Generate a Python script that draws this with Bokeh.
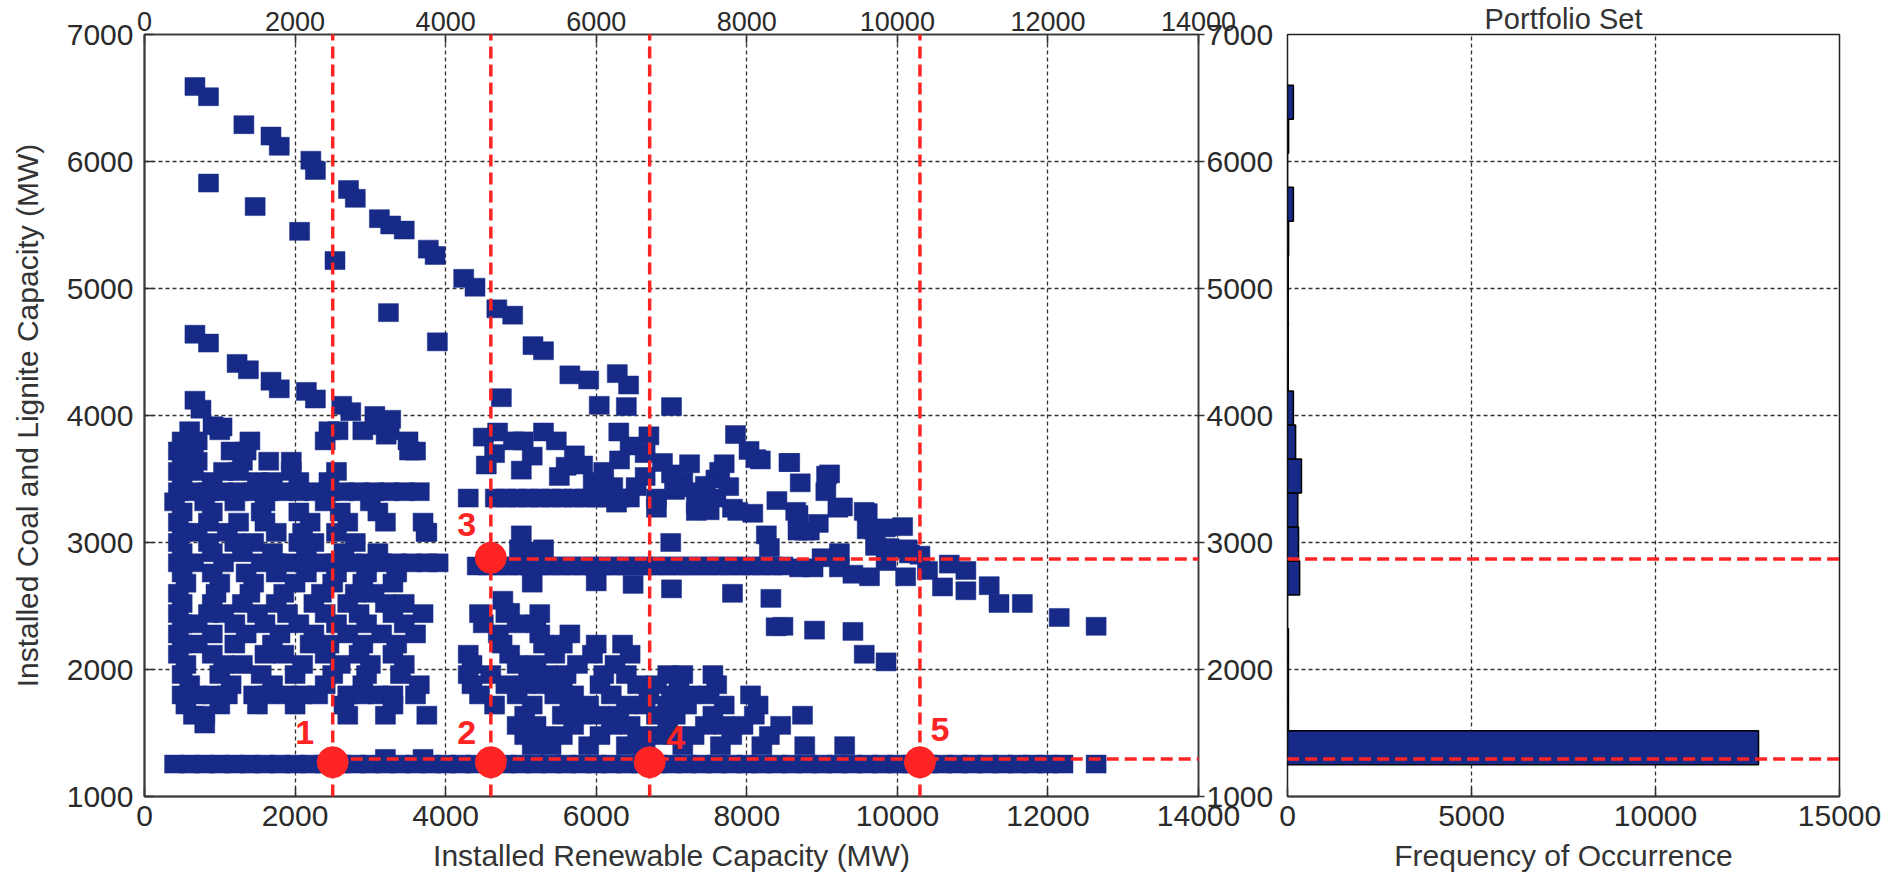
from bokeh.plotting import figure
from bokeh.models import Range1d, LinearAxis, FixedTicker, Arrow, ColumnDataSource
from bokeh.layouts import row
from bokeh.embed import file_html
from bokeh.resources import INLINE
from bokeh.core.properties import value

# ---------------- data ----------------
x_ticks = [0, 2000, 4000, 6000, 8000, 10000, 12000, 14000]
y_ticks = [1000, 2000, 3000, 4000, 5000, 6000, 7000]
freq_ticks = [0, 5000, 10000, 15000]

# upper diagonal band of portfolios (renewable MW, coal+lignite MW)
upper_band_x = [670, 850, 1320, 1680, 1790, 2210, 2270, 2710, 2800, 3120, 3270, 3450, 3770, 3860, 4240,
                4390, 4680, 4890, 5160, 5300, 5650, 5900, 6280, 6430, 6040, 6400, 7000, 6300, 6700, 7850,
                8030, 8180, 8560, 8710, 9100, 9270, 9600, 9840, 10070, 10130]
upper_band_y = [6590, 6510, 6290, 6200, 6120, 6010, 5930, 5780, 5710, 5550, 5500, 5460, 5310, 5260, 5080,
                5010, 4840, 4790, 4550, 4510, 4320, 4280, 4330, 4240, 4080, 4070, 4070, 3870, 3840, 3850,
                3725, 3650, 3630, 3470, 3540, 3280, 3235, 3115, 3125, 2950]

isolated_x = [850, 1470, 2060, 2530, 3240, 3890, 4740]
isolated_y = [5830, 5645, 5450, 5220, 4810, 4580, 4140]

second_band_x = [670, 850, 1230, 1380, 1680, 1790, 2150, 2270, 2620, 2740, 3060, 3270, 3210, 2570, 3075,
                 670, 750, 910, 1030]
second_band_y = [4640, 4570, 4410, 4360, 4270, 4210, 4190, 4130, 4080, 4030, 4000, 3970, 3845, 3880, 3920,
                 4120, 4050, 3920, 3910]

mid_right_x = [4500, 4690, 4900, 5030, 5300, 5470, 4540, 5005, 5510, 5710, 5820, 6310, 6880, 7240, 7590,
               8120, 8570, 5960, 6220, 6530, 6800, 7040, 7330, 7590, 7810, 8080, 8260, 8300, 6270, 6800,
               7330, 7110, 7350, 7640, 7760, 7880, 8650, 8770, 9050, 9060, 9210, 9560, 9690, 8680, 8680,
               8830, 9230, 9710, 9890, 10160, 9600, 5005, 4980, 5230, 6990, 4300, 3520, 3740,
               4650, 5150, 5600, 6100, 6650, 7000, 7450, 7700, 8400, 8950, 6450, 6650, 7150, 7500]
mid_right_y = [3830, 3870, 3800, 3800, 3870, 3800, 3610, 3570, 3520, 3690, 3610, 3650, 3630, 3620, 3500,
               3660, 3630, 3480, 3440, 3440, 3350, 3410, 3300, 3350, 3270, 3230, 3060, 2960, 3310, 3270,
               3245, 3430, 3400, 3560, 3440, 3245, 3245, 3090, 3400, 3530, 3270, 3245, 3100, 3220, 3090,
               3090, 2920, 2970, 2960, 2910, 3100, 3060, 2950, 2930, 3000, 3350, 3720, 3080,
               3700, 3680, 3600, 3560, 3520, 3540, 3450, 3620, 3330, 3150, 3760, 3700, 3480, 3250]

tail_x = [8700, 8880, 9230, 9410, 9630, 10110, 10690, 10910, 10600, 10910, 11220, 11350, 11660, 12150,
          12640, 10400, 10300, 9000, 9850]
tail_y = [2800, 2800, 2800, 2750, 2730, 2730, 2830, 2780, 2650, 2620, 2660, 2520, 2520, 2410,
          2340, 2780, 2900, 2880, 2850]

below_band_x = [4760, 4850, 6000, 6490, 7000, 7810, 8320, 8480, 8900, 9410, 9560, 9850, 8390, 5150, 5300]
below_band_y = [2545, 2450, 2690, 2670, 2635, 2600, 2560, 2340, 2310, 2300, 2120, 2060, 2336, 2680, 2950]

# horizontal bands: (coal MW, renewable MW positions)
band_rows = [
    (3350, [4660, 4800, 4950, 5100, 5250, 5400, 5550, 5700, 5850, 6000, 6150, 6300, 6440]),
    (2815, [4420, 4560, 4700, 4840, 4980, 5120, 5260, 5400, 5540, 5680, 5820, 5960, 6100, 6240, 6380,
            6520, 6660, 6800, 6940, 7080, 7220, 7360, 7500, 7640, 7780, 7920, 8060, 8200, 8340, 8480]),
    (1255, [400, 600, 800, 1000, 1200, 1400, 1600, 1800, 2000, 2200, 2400, 2600, 2800, 3000, 3200,
            3400, 3600, 3800, 4000, 4200, 4400, 4600, 4800, 5000, 5200, 5400, 5600, 5800, 6000, 6200,
            6400, 6600, 6800, 7000, 7200, 7400, 7600, 7800, 8000, 8200, 8400, 8600, 8800, 9000, 9200,
            9400, 9600, 9800, 10000, 10200, 10400, 10600, 10800, 11000, 11200, 11400, 11600, 11800,
            12000, 12200, 12640]),
    (1300, [3200, 3700]),
]

left_cluster_rows = [
    (3880, [600, 1000, 2450, 2900, 3250]),
    (3800, [500, 700, 1400, 2400, 3500]),
    (3720, [450, 650, 1150, 1350, 3600]),
    (3640, [500, 700, 1300, 1650, 1950]),
    (3560, [450, 650, 1050, 1250, 1950, 2550]),
    (3480, [500, 900, 1500, 1700, 2050, 2450]),
    (3400, [450, 650, 850, 1050, 1250, 1450, 1650, 1850, 2050, 2250, 2450, 2650, 2850, 3050, 3250, 3450,
            3650]),
    (3320, [400, 800, 1200, 1600, 2400, 3000]),
    (3240, [500, 900, 1550, 2050, 2600, 3100]),
    (3160, [450, 850, 1250, 1600, 2200, 2700, 3200, 3700]),
    (3080, [500, 700, 1100, 1750, 2100, 2550, 3750]),
    (3000, [450, 850, 1200, 1450, 2050, 2250, 2800]),
    (2920, [500, 900, 1300, 1700, 2150, 2650, 3100]),
    (2840, [450, 650, 1050, 1550, 1750, 1950, 2150, 2350, 2550, 2750, 2950, 3150, 3350, 3550, 3750,
            3900]),
    (2760, [500, 900, 1350, 1750, 2150, 2550, 2950, 3350]),
    (2680, [550, 1000, 1450, 2000, 2500, 2900, 3300]),
    (2600, [450, 950, 1400, 1850, 2350, 2800, 3050]),
    (2520, [500, 900, 1300, 1750, 2250, 2700, 3200, 3450]),
    (2440, [450, 850, 1050, 1500, 1900, 2400, 2850, 3300, 3700]),
    (2360, [500, 700, 1200, 1600, 2050, 2550, 2950, 3450]),
    (2280, [450, 900, 1350, 1800, 2250, 2700, 3150, 3600]),
    (2200, [500, 700, 1200, 1700, 2200, 2450, 2900, 3350]),
    (2120, [450, 900, 1600, 1850, 2400, 2850, 3300]),
    (2040, [550, 1050, 1300, 2100, 2600, 3000, 3450]),
    (1960, [500, 1000, 1550, 2000, 2500, 2950, 3400]),
    (1880, [600, 1150, 1700, 2400, 2900, 3650]),
    (1800, [500, 700, 900, 1100, 1450, 1650, 1900, 2100, 2300, 2700, 2900, 3100, 3300, 3600]),
    (1720, [550, 1000, 1500, 2000, 2650, 3300]),
    (1640, [650, 800, 2700, 3200, 3750]),
    (1570, [800]),
]

lower_right_rows = [
    (2440, [4450, 4800, 5250]),
    (2360, [4500, 4950, 5200]),
    (2280, [4700, 5250, 5650]),
    (2200, [4750, 5300, 5550, 6000, 6350]),
    (2120, [4300, 4850, 5450, 5950, 6450]),
    (2040, [4350, 4950, 5200, 5750, 6250]),
    (1960, [4300, 4600, 5100, 5350, 5600, 6100, 6400, 6950, 7150, 7550]),
    (1880, [4350, 4800, 5050, 5300, 5550, 6050, 6550, 6800, 7100, 7600]),
    (1800, [4450, 4950, 5450, 5700, 6200, 6700, 7000, 7250, 7500, 8050]),
    (1720, [4650, 5150, 5650, 5900, 6400, 6650, 6950, 7200, 7700, 8150]),
    (1640, [5050, 5550, 5800, 6050, 6300, 6800, 7050, 7550, 8100, 8740]),
    (1560, [4950, 5200, 5700, 6200, 6450, 6950, 7450, 7700, 7950, 8450]),
    (1480, [5050, 5300, 5550, 6050, 6550, 6800, 7050, 7300, 7800, 8300]),
    (1400, [5150, 5400, 5900, 6400, 6650, 7150, 7650, 8200, 8770, 9300]),
]

# selected portfolios
sel_x = [2500, 4600, 4600, 6710, 10300]
sel_y = [1270, 1270, 2880, 1270, 1270]
sel_labels = ["1", "2", "3", "4", "5"]
sel_dx = [-28, -24, -24, 26, 20]      # label offsets in screen px
sel_dy = [-30, -30, -33, -25, -33]

vline_x = [2500, 4600, 6710, 10300]
hline_y = [1295, 2870]
hline_start = [2500, 4600]

# histogram of coal+lignite capacity
bin_edges = [1250, 1517, 1785, 2052, 2320, 2587, 2855, 3122, 3390, 3657, 3925,
             4192, 4460, 4727, 4995, 5262, 5530, 5797, 6065, 6332, 6600]
bin_counts = [12800, 25, 25, 25, 0, 330, 300, 280, 380, 220,
              160, 20, 20, 20, 20, 30, 160, 0, 30, 160]

# ---------------- build ----------------
NAVY = "#172a88"
RED = "#ff2424"
FONT = "Liberation Sans"

px, py = [], []
for gx, gy in [(upper_band_x, upper_band_y), (isolated_x, isolated_y), (second_band_x, second_band_y),
               (mid_right_x, mid_right_y), (tail_x, tail_y), (below_band_x, below_band_y)]:
    px += gx
    py += gy
for rows in (band_rows, left_cluster_rows, lower_right_rows):
    for yv, xs in rows:
        px += xs
        py += [yv] * len(xs)


def style_axis(ax, ticks):
    ax.ticker = FixedTicker(ticks=ticks)
    ax.major_label_text_font = FONT
    ax.major_label_text_font_size = "30px"
    ax.major_label_text_color = "#2a2a2a"
    ax.axis_label_text_font = FONT
    ax.axis_label_text_font_size = "30px"
    ax.axis_label_text_font_style = "normal"
    ax.axis_label_text_color = "#333333"
    ax.major_tick_in = 9
    ax.major_tick_out = 0
    ax.minor_tick_line_color = None
    ax.axis_line_color = "#3a3a3a"
    ax.axis_line_width = 2
    ax.major_tick_line_color = "#333333"
    ax.major_tick_line_width = 1.5


def style_grid(p):
    for g in (p.xgrid, p.ygrid):
        g.grid_line_color = "#333333"
        g.grid_line_dash = "4 3"
        g.grid_line_width = 1.3


p = figure(width=1276, height=876, x_range=Range1d(0, 14000), y_range=Range1d(1000, 7000),
           output_backend="svg", toolbar_location=None,
           min_border_left=144, min_border_right=76, min_border_top=30, min_border_bottom=80)
p.background_fill_color = "white"
p.border_fill_color = "white"
p.outline_line_color = "#222222"
p.outline_line_width = 1.5

style_axis(p.xaxis[0], x_ticks)
style_axis(p.yaxis[0], y_ticks)
p.xaxis[0].axis_label = "Installed Renewable Capacity (MW)"
p.xaxis[0].major_label_standoff = 9
p.xaxis[0].axis_label_standoff = 10
p.yaxis[0].axis_label = "Installed Coal and Lignite Capacity (MW)"
p.yaxis[0].major_label_standoff = 11
p.yaxis[0].axis_label_standoff = 20

top_axis = LinearAxis()
style_axis(top_axis, x_ticks)
top_axis.major_label_text_font_size = "27px"
top_axis.major_label_standoff = 4
top_axis.axis_line_width = 1.5
p.add_layout(top_axis, "above")

right_axis = LinearAxis()
style_axis(right_axis, y_ticks)
right_axis.major_tick_in = 0
right_axis.major_tick_out = 6
right_axis.major_label_standoff = 2
right_axis.axis_line_width = 1.5
p.add_layout(right_axis, "right")

p.xgrid.ticker = FixedTicker(ticks=x_ticks)
p.ygrid.ticker = FixedTicker(ticks=y_ticks)
style_grid(p)

src = ColumnDataSource(data=dict(x=px, y=py))
p.rect(x="x", y="y", width=20, height=18, width_units="screen", height_units="screen",
       source=src, fill_color=NAVY, line_color=NAVY, line_width=0.5)

for xv in vline_x:
    p.add_layout(Arrow(end=None, x_start=xv, y_start=1000, x_end=xv, y_end=7450,
                       line_color=RED, line_width=3.5, line_dash="12 6"))
for yv, xs in zip(hline_y, hline_start):
    p.add_layout(Arrow(end=None, x_start=xs, y_start=yv, x_end=15400, y_end=yv,
                       line_color=RED, line_width=3.5, line_dash="12 6"))

sel_src = ColumnDataSource(data=dict(x=sel_x, y=sel_y, t=sel_labels, dx=sel_dx, dy=sel_dy))
p.scatter(x="x", y="y", source=sel_src, marker="circle", size=31, fill_color=RED, line_color=RED)
p.text(x="x", y="y", text="t", x_offset="dx", y_offset="dy", source=sel_src,
       text_font=value(FONT), text_font_style="bold", text_font_size="34px",
       text_color=RED, text_align="center", text_baseline="middle")

# ---- right: histogram ----
p2 = figure(width=612, height=876, x_range=Range1d(0, 15000), y_range=Range1d(1000, 7000),
            output_backend="svg", toolbar_location=None, y_axis_location=None,
            title="Portfolio Set",
            min_border_left=11, min_border_right=49, min_border_top=30, min_border_bottom=80)
p2.title.align = "center"
p2.title.text_font = FONT
p2.title.text_font_size = "29px"
p2.title.text_font_style = "normal"
p2.title.text_color = "#333333"
p2.title.standoff = 0
p2.title.offset = 0
p2.background_fill_color = "white"
p2.border_fill_color = "white"
p2.outline_line_color = "#222222"
p2.outline_line_width = 1.5
style_axis(p2.xaxis[0], freq_ticks)
p2.xaxis[0].axis_label = "Frequency of Occurrence"
p2.xaxis[0].major_label_standoff = 9
p2.xaxis[0].axis_label_standoff = 10
p2.xgrid.ticker = FixedTicker(ticks=freq_ticks)
p2.ygrid.ticker = FixedTicker(ticks=y_ticks)
style_grid(p2)

hist_src = ColumnDataSource(data=dict(left=[0] * len(bin_counts), right=bin_counts,
                                      bottom=bin_edges[:-1], top=bin_edges[1:]))
p2.quad(left="left", right="right", bottom="bottom", top="top", source=hist_src,
        fill_color=NAVY, line_color="black", line_width=1.5)

for yv in hline_y:
    p2.add_layout(Arrow(end=None, x_start=-500, y_start=yv, x_end=15000, y_end=yv,
                        line_color=RED, line_width=3.5, line_dash="12 6"))

layout = row(p, p2, spacing=0)
open("out.html", "w").write(file_html(layout, INLINE))
